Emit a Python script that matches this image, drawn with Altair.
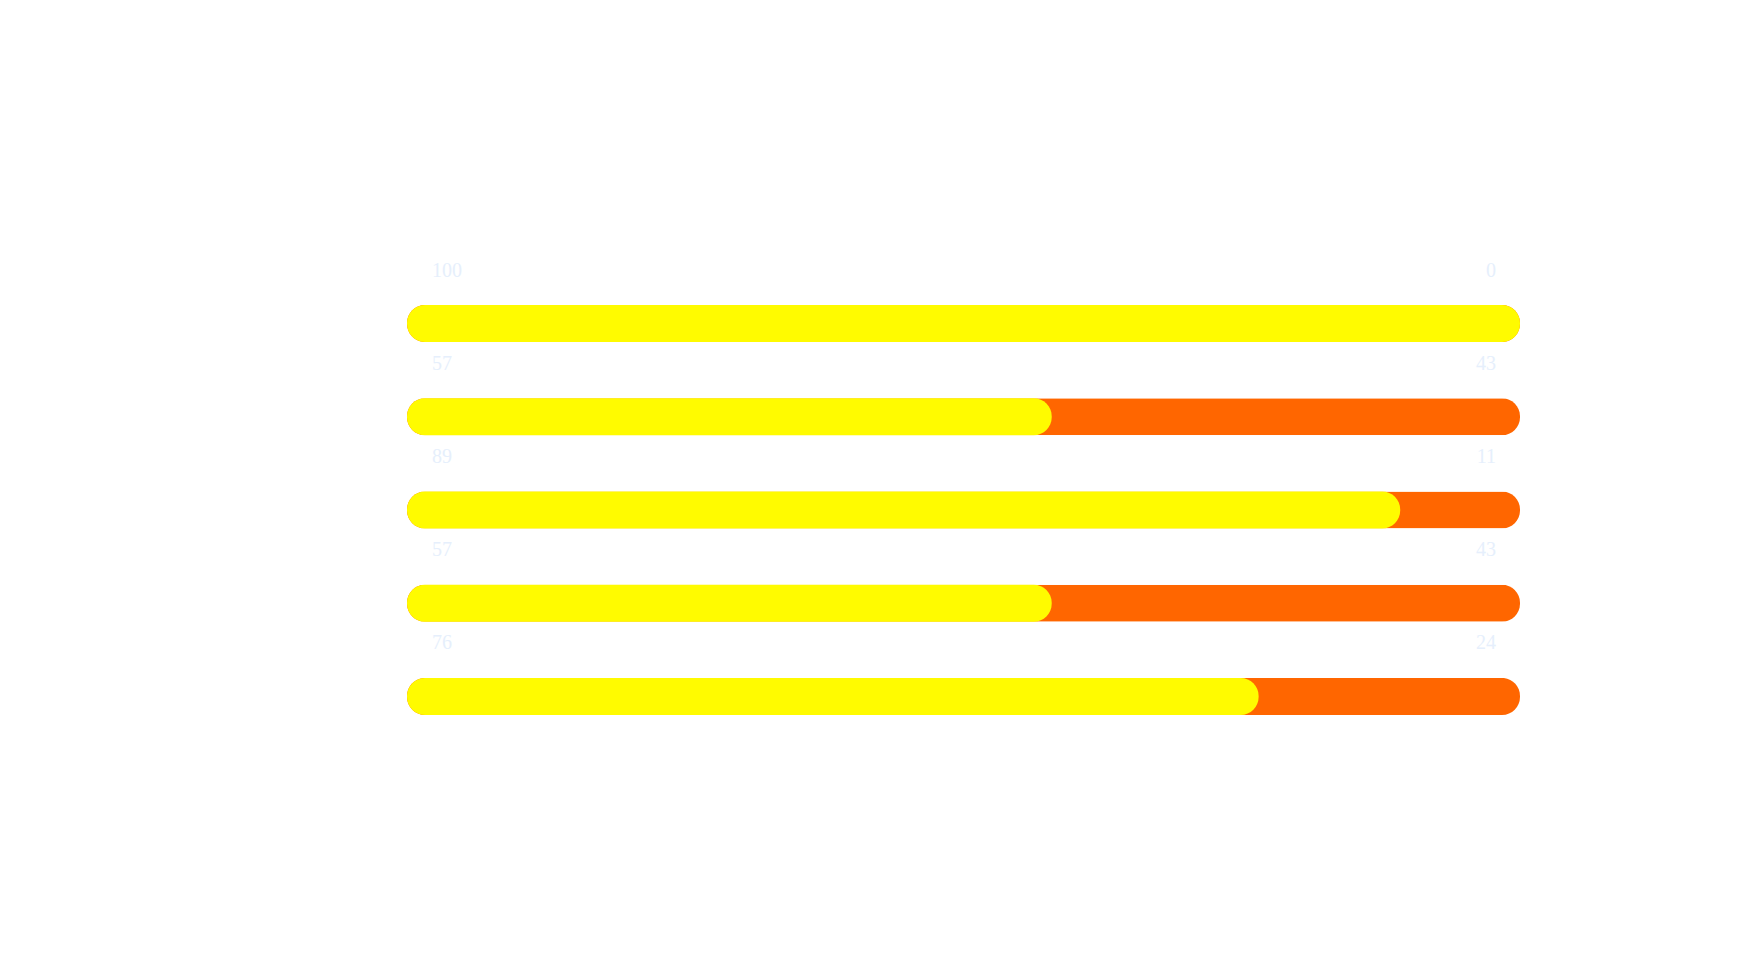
import altair as alt
import pandas as pd

rows = ["A", "B", "C", "D", "E"]
left_values = [100, 57, 89, 57, 76]
right_values = [0, 43, 11, 43, 24]

df = pd.DataFrame({
    "row": rows,
    "left": left_values,
    "right": right_values,
    "total": [l + r for l, r in zip(left_values, right_values)],
    "left_label": [str(v) for v in left_values],
    "right_label": [str(v) for v in right_values],
})

xscale = alt.Scale(domain=[0, 100], nice=False, zero=True)
# the yellow fill starts a cap-width before zero, as in the reference
cap = -2.2
fillscale = alt.Scale(domain=[cap, 100], nice=False, zero=False)
yenc = alt.Y("row:N", sort=None, axis=None,
             scale=alt.Scale(paddingInner=0, paddingOuter=0))

base = alt.Chart(df)

track = base.mark_bar(color="#ff6600", cornerRadius=18, size=37).encode(
    x=alt.X("total:Q", scale=xscale, axis=None),
    y=yenc,
)

fill = base.mark_bar(color="#fffb00", cornerRadius=18, size=37).encode(
    x=alt.X("left:Q", scale=fillscale, axis=None),
    x2=alt.datum(cap),
    y=yenc,
)

label_style = dict(font="Liberation Serif", fontSize=20, color="#e6effc",
                   baseline="middle", dy=-53)

left_text = base.mark_text(align="left", dx=25, **label_style).encode(
    x=alt.X(datum=0, scale=xscale, axis=None),
    y=yenc,
    text="left_label:N",
)

right_text = base.mark_text(align="right", dx=-24, **label_style).encode(
    x=alt.X(datum=100, scale=xscale, axis=None),
    y=yenc,
    text="right_label:N",
)

chart = alt.layer(track, fill, left_text, right_text).resolve_scale(
    x="independent"
).properties(
    width=1113,
    height=466,
    background="#ffffff",
    autosize=alt.AutoSizeParams(type="none"),
    padding={"left": 399, "top": 269, "right": 200, "bottom": 220},
).configure_view(strokeWidth=0, stroke="transparent")

chart.save("out.html", embed_options={"renderer": "svg", "actions": False})
